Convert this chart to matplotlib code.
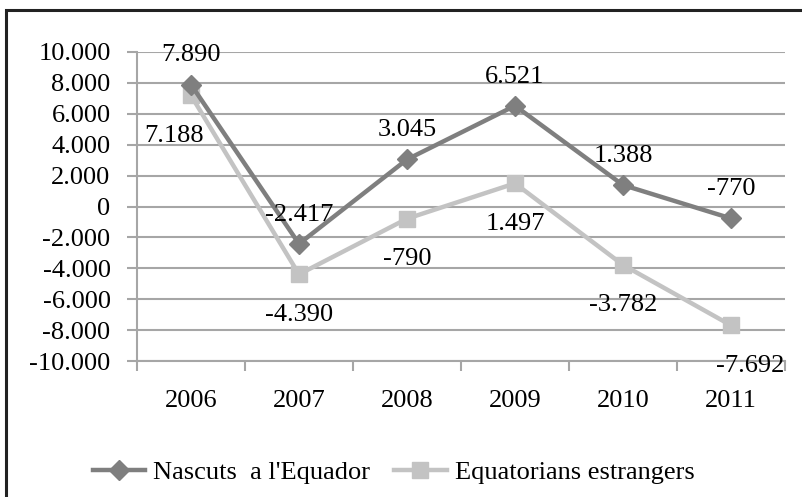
import matplotlib.pyplot as plt
from matplotlib.patches import Rectangle
from matplotlib.ticker import FuncFormatter

years = ["2006", "2007", "2008", "2009", "2010", "2011"]
nascuts = [7890, -2417, 3045, 6521, 1388, -770]
estrangers = [7188, -4390, -790, 1497, -3782, -7692]
yticks = list(range(-10000, 10001, 2000))


def dots(v, pos=None):
    s = f"{abs(int(v)):,}".replace(",", ".")
    return "-" + s if v < 0 else s


plt.rcParams["font.family"] = ["Liberation Serif", "DejaVu Serif"]
plt.rcParams["font.size"] = 19

fig = plt.figure(figsize=(8.03, 4.97), dpi=100)
ax = fig.add_axes([137 / 803, 1 - 361 / 497, 648 / 803, 309 / 497])

x = list(range(1, len(years) + 1))
dark = "#7f7f7f"
light = "#c3c3c3"
ax.plot(x, nascuts, color=dark, lw=3.2, marker="D", ms=10, label="Nascuts  a l'Equador", zorder=4)
ax.plot(x, estrangers, color=light, lw=3.2, marker="s", ms=11, label="Equatorians estrangers", zorder=3)

# small sideways nudges like the original label placement
nudge_light = {0: -12, 5: 14}
for i, (xi, v) in enumerate(zip(x, nascuts)):
    ax.annotate(dots(v), (xi, v), xytext=(0, 21), textcoords="offset points",
                ha="center", va="center", zorder=5)
for i, (xi, v) in enumerate(zip(x, estrangers)):
    ax.annotate(dots(v), (xi, v), xytext=(nudge_light.get(i, 0), -29), textcoords="offset points",
                ha="center", va="center", zorder=5)

ax.set_xlim(0.5, len(years) + 0.5)
ax.set_ylim(-10000, 10000)
ax.set_yticks(yticks)
ax.yaxis.set_major_formatter(FuncFormatter(dots))
ax.grid(axis="y", color="#a6a6a6", lw=1.5)
ax.set_axisbelow(True)

ax.set_xticks([i + 0.5 for i in range(len(years) + 1)])
ax.set_xticklabels([])
ax.set_xticks(x, minor=True)
ax.set_xticklabels(years, minor=True)
ax.tick_params(axis="x", which="minor", length=0, pad=21)
ax.tick_params(axis="x", which="major", length=7, color="#a6a6a6", width=1.5)
ax.tick_params(axis="y", length=7, color="#a6a6a6", width=1.5, pad=12)

for s in ["top", "right"]:
    ax.spines[s].set_visible(False)
ax.spines["left"].set_color("#a6a6a6")
ax.spines["bottom"].set_color("#a6a6a6")
ax.spines["left"].set_linewidth(1.5)
ax.spines["bottom"].set_linewidth(1.5)

fig.legend(loc="center", bbox_to_anchor=(0.49, 1 - 472 / 497), ncol=2, frameon=False,
           handlelength=2.0, handletextpad=0.3, columnspacing=0.9, borderpad=0)

fig.patches.append(Rectangle((6 / 803, -0.1), 1.2, 0.1 + (1 - 10 / 497), transform=fig.transFigure,
                             fill=False, edgecolor="#222222", lw=2.2))

fig.savefig("out.png", dpi=100)
